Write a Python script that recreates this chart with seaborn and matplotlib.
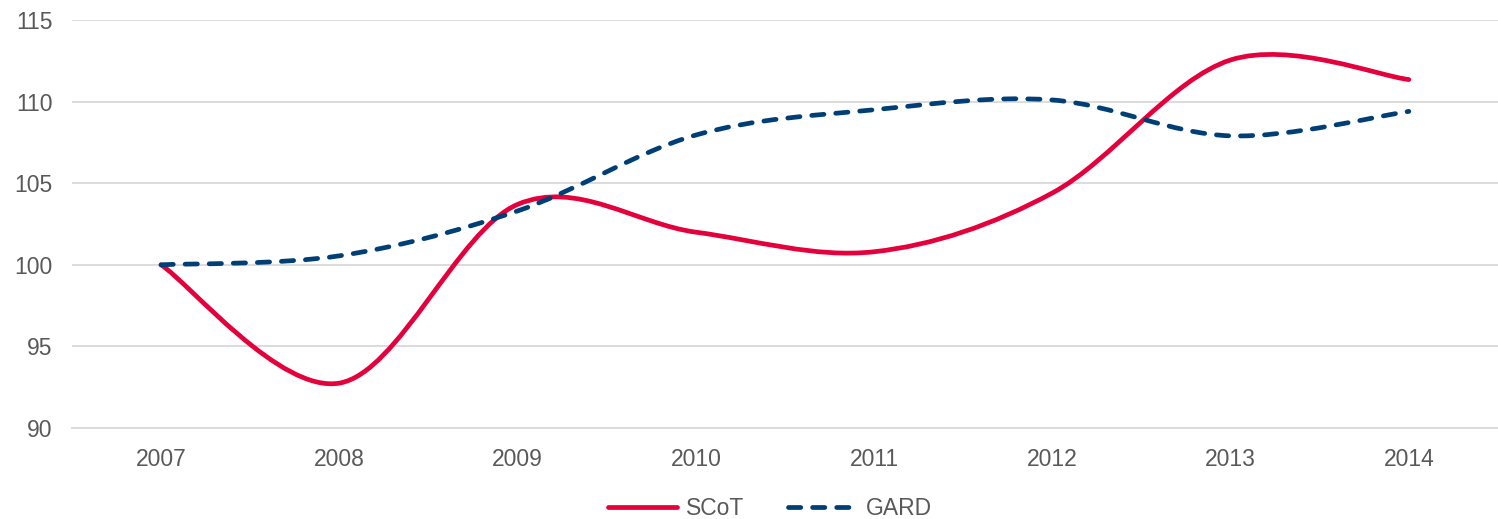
import numpy as np
import pandas as pd
import seaborn as sns
import matplotlib
matplotlib.use("Agg")
import matplotlib.pyplot as plt
from matplotlib.path import Path
from matplotlib.patches import PathPatch
from matplotlib.lines import Line2D

years = ["2007", "2008", "2009", "2010", "2011", "2012", "2013", "2014"]
scot = [100.0, 92.75, 103.7, 102.0, 100.8, 104.4, 112.55, 111.35]
gard = [100.0, 100.55, 103.3, 107.95, 109.5, 110.1, 107.9, 109.4]
series_names = ["SCoT", "GARD"]
yticks = [90, 95, 100, 105, 110, 115]

RED = "#e4003b"
BLUE = "#003f75"
GREY_TXT = "#595959"
FS = 16.5

sns.set_theme(style="white")
plt.rcParams["font.family"] = ["Liberation Sans", "DejaVu Sans"]

df = pd.DataFrame({
    "x": list(range(len(years))) * 2,
    "value": scot + gard,
    "series": [series_names[0]] * len(years) + [series_names[1]] * len(years),
})

fig = plt.figure(figsize=(14.98, 5.19), dpi=100)
ax = fig.add_axes([0.048, 0.1753, 0.952, 0.7862])

sns.lineplot(data=df, x="x", y="value", hue="series",
             palette=[RED, BLUE], ax=ax, legend=False, sort=False)

def smooth_path(xs, ys):
    pts = np.column_stack([xs, ys])
    n = len(pts)
    verts = [pts[0]]
    codes = [Path.MOVETO]
    for i in range(n - 1):
        p0 = pts[i - 1] if i > 0 else pts[i]
        p1 = pts[i]
        p2 = pts[i + 1]
        p3 = pts[i + 2] if i + 2 < n else pts[i + 1]
        c1 = p1 + (p2 - p0) / 6.0
        c2 = p2 - (p3 - p1) / 6.0
        verts += [c1, c2, p2]
        codes += [Path.CURVE4] * 3
    return Path(verts, codes)

lw = 3.4
dash = (0, (2.6, 2.5))
styles = [
    dict(color=RED, ls="-"),
    dict(color=BLUE, ls=dash),
]
for line, st in zip(ax.get_lines(), styles):
    xd, yd = line.get_xdata(), line.get_ydata()
    line.set_visible(False)
    patch = PathPatch(smooth_path(np.asarray(xd, float), np.asarray(yd, float)),
                      facecolor="none", edgecolor=st["color"], lw=lw,
                      linestyle=st["ls"], capstyle="round", joinstyle="round",
                      zorder=3)
    ax.add_patch(patch)

ax.set_xlim(-0.5, len(years) - 0.5)
ax.set_ylim(90, 115)
ax.set_xticks(range(len(years)))
ax.set_xticklabels(years)
ax.set_yticks(yticks)
ax.set_yticklabels([str(t) for t in yticks])
ax.set_xlabel("")
ax.set_ylabel("")
ax.yaxis.grid(True, color="#d9d9d9", lw=1.3)
ax.xaxis.grid(False)
for s in ax.spines.values():
    s.set_visible(False)
ax.spines["bottom"].set_visible(True)
ax.spines["bottom"].set_color("#d9d9d9")
ax.spines["bottom"].set_linewidth(1.3)
ax.tick_params(axis="both", length=0, labelsize=FS, colors=GREY_TXT)
ax.tick_params(axis="y", pad=14)
ax.tick_params(axis="x", pad=14.5)

handles = [
    Line2D([], [], color=RED, lw=lw, solid_capstyle="round"),
    Line2D([], [], color=BLUE, lw=lw, linestyle=dash, dash_capstyle="round"),
]
leg = fig.legend(handles, series_names, loc="center", bbox_to_anchor=(0.514, 0.02),
                 ncol=2, frameon=False, fontsize=FS, handlelength=3.0,
                 handletextpad=0.4, columnspacing=1.9, labelcolor=GREY_TXT)

fig.savefig("out.png", dpi=100)
